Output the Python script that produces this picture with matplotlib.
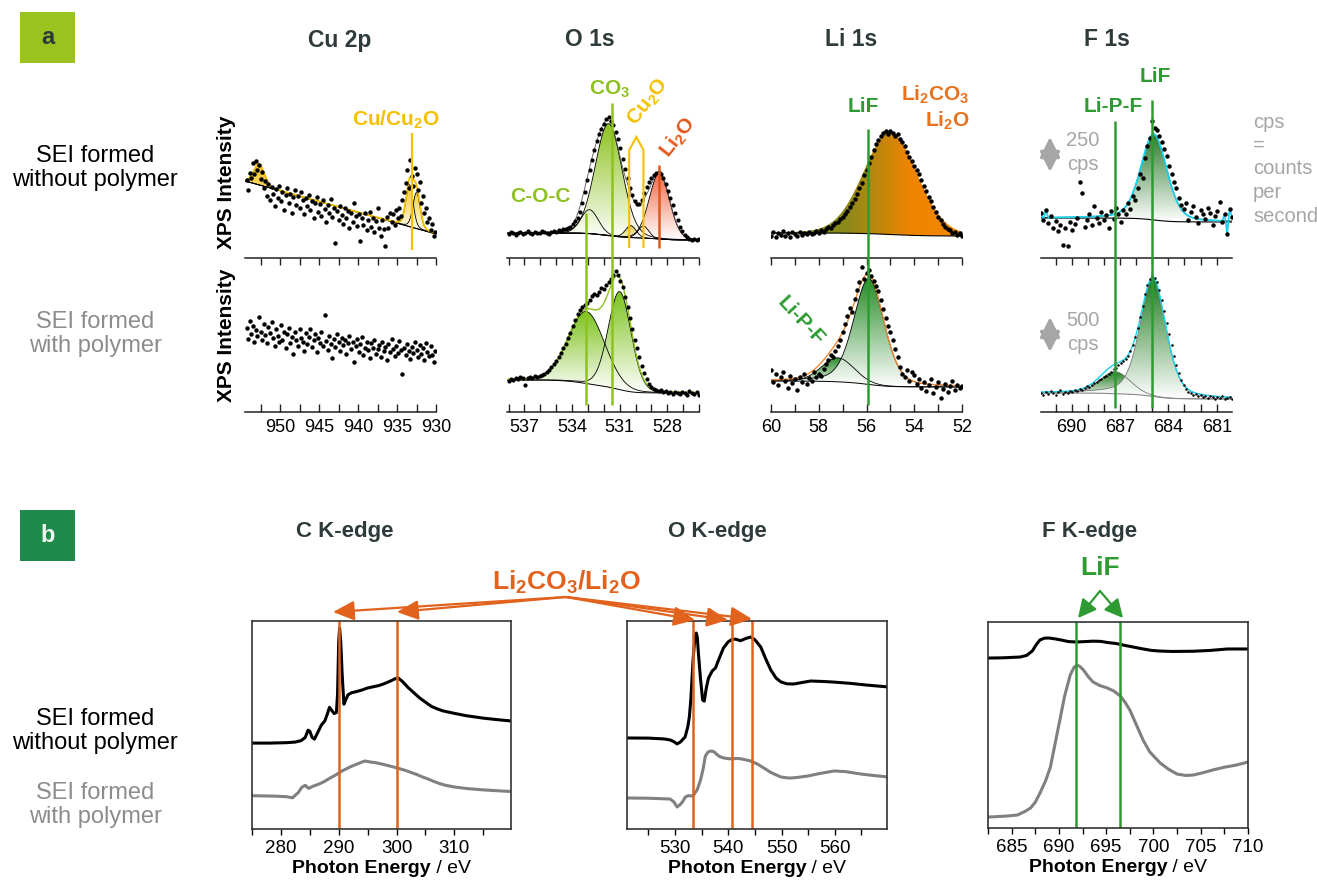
import numpy as np
import matplotlib
matplotlib.use('Agg')
import matplotlib.pyplot as plt
from matplotlib.colors import LinearSegmentedColormap
from matplotlib.patches import Polygon, FancyArrowPatch, Rectangle
from matplotlib.lines import Line2D
from matplotlib.transforms import blended_transform_factory
from matplotlib.offsetbox import TextArea, HPacker, AnnotationBbox
from matplotlib.ticker import MultipleLocator

plt.rcParams['font.family'] = ['Liberation Sans', 'DejaVu Sans']
plt.rcParams['mathtext.fontset'] = 'custom'
plt.rcParams['mathtext.rm'] = 'Liberation Sans:bold'
plt.rcParams['mathtext.bf'] = 'Liberation Sans:bold'
plt.rcParams['mathtext.it'] = 'Liberation Sans:bold:italic'

# ---------------- XPS spectra (counts, binding energy high -> low) ----------------
cu_top_counts = [78, 68, 85, 80, 95, 84, 97, 88, 93, 79,
                 86, 70, 77, 62, 74, 58, 71, 64, 52, 69,
                 60, 72, 57, 66, 48, 63, 70, 55, 64, 45,
                 61, 68, 53, 62, 50, 66, 58, 44, 60, 52,
                 63, 48, 57, 40, 55, 61, 46, 54, 42, 58,
                 49, 36, 53, 45, 59, 41, 50, 15, 47, 38,
                 52, 43, 34, 50, 40, 47, 30, 45, 36, 55,
                 42, 32, 44, 17, 40, 33, 45, 28, 38, 46,
                 31, 40, 26, 37, 50, 30, 22, 38, 29, 12,
                 41, 30, 45, 36, 44, 33, 48, 40, 50, 42,
                 58, 66, 75, 88, 70, 98, 82, 72, 90, 84,
                 68, 76, 55, 62, 45, 50, 36, 40, 28, 34,
                 22, 26]
cu_bot_counts = [84, 73, 91, 78, 86, 70, 82, 76, 95, 80,
                 72, 88, 77, 69, 85, 79, 90, 74, 66, 83,
                 76, 70, 87, 72, 80, 64, 78, 84, 69, 75,
                 58, 80, 72, 66, 83, 74, 70, 61, 79, 68,
                 75, 83, 65, 72, 78, 60, 74, 69, 80, 66,
                 97, 71, 62, 76, 68, 54, 73, 65, 78, 70,
                 61, 74, 67, 72, 58, 69, 76, 63, 70, 50,
                 66, 73, 60, 68, 75, 57, 64, 70, 62, 54,
                 69, 64, 72, 58, 63, 67, 55, 70, 61, 65,
                 52, 68, 60, 73, 63, 56, 66, 59, 71, 62,
                 38, 64, 57, 68, 61, 53, 65, 59, 70, 62,
                 55, 67, 58, 64, 52, 69, 60, 56, 66, 57,
                 50, 61]
cu_range = (954.3, 930.1)

o_top_counts = [24, 26, 25, 23, 25, 26, 24, 25, 27, 25,
                24, 26, 25, 25, 27, 26, 25, 24, 26, 27,
                26, 28, 27, 29, 29, 30, 31, 34, 37, 40,
                46, 55, 66, 78, 88, 98, 108, 117, 124, 129,
                134, 139, 141, 137, 133, 126, 119, 110, 99, 89,
                80, 70, 63, 57, 54, 54, 58, 65, 71, 76,
                80, 83, 85, 86, 84, 80, 74, 67, 60, 53,
                45, 38, 31, 27, 23, 21, 19, 18, 19, 18,
                19]
o_bot_counts = [31, 33, 32, 34, 33, 35, 34, 27, 34, 35,
                34, 36, 35, 36, 37, 38, 40, 42, 45, 48,
                51, 55, 59, 64, 68, 74, 79, 86, 92, 98,
                102, 105, 107, 109, 112, 116, 118, 117, 120, 124,
                123, 127, 130, 133, 137, 141, 137, 131, 125, 115,
                105, 94, 83, 72, 64, 55, 46, 39, 33, 28,
                25, 23, 22, 21, 22, 20, 21, 19, 20, 18,
                20, 19, 18, 20, 19, 17, 21, 19, 18, 20,
                17]
o_range = (538.0, 526.0)

li_top_counts = [22, 26, 21, 25, 23, 27, 22, 25, 21, 26,
                 24, 22, 26, 23, 25, 24, 26, 24, 25, 27,
                 25, 28, 26, 29, 31, 30, 33, 35, 36, 39,
                 41, 44, 47, 51, 55, 59, 64, 70, 75, 83,
                 88, 95, 101, 108, 114, 118, 122, 125, 127, 124,
                 127, 125, 122, 124, 119, 116, 112, 106, 101, 97,
                 92, 88, 84, 78, 72, 67, 61, 57, 51, 46,
                 41, 38, 34, 31, 29, 28, 25, 26, 23, 25,
                 22]
li_bot_counts = [42, 30, 38, 27, 35, 40, 31, 24, 36, 29,
                 33, 22, 35, 30, 38, 28, 34, 31, 40, 35,
                 38, 36, 43, 48, 52, 57, 55, 61, 66, 72,
                 80, 88, 96, 104, 100, 113, 122, 130, 145, 133,
                 139, 142, 136, 131, 126, 121, 112, 103, 94, 86,
                 80, 72, 63, 55, 45, 38, 35, 42, 31, 40,
                 37, 28, 33, 24, 30, 21, 27, 33, 19, 25,
                 30, 14, 23, 28, 20, 26, 31, 22, 27, 24,
                 26]
li_range = (60.0, 52.0)

f_top_counts = [45, 38, 48, 35, 42, 30, 37, 27, 33, 13,
                30, 12, 36, 28, 34, 40, 76, 65, 31, 38,
                44, 33, 52, 40, 35, 46, 38, 43, 30, 47,
                39, 50, 44, 36, 48, 44, 55, 49, 62, 58,
                70, 84, 80, 100, 112, 120, 137, 130, 128, 122,
                116, 109, 102, 92, 84, 76, 70, 60, 53, 49,
                55, 38, 46, 52, 41, 35, 48, 44, 39, 50,
                45, 33, 42, 47, 56, 36, 44, 24, 49, 41]
f_bot_counts = [19, 17, 20, 18, 21, 19, 17, 20, 22, 18,
                20, 19, 21, 20, 22, 21, 23, 22, 24, 26,
                25, 27, 29, 30, 32, 33, 35, 36, 38, 40,
                43, 44, 47, 49, 51, 53, 56, 61, 67, 75,
                84, 95, 106, 118, 127, 133, 136, 134, 130, 122,
                112, 101, 89, 78, 67, 56, 47, 39, 32, 27,
                23, 20, 19, 17, 18, 16, 17, 15, 16, 14,
                16, 15, 13, 15, 14, 16, 13, 14, 15, 13]
f_range = (691.9, 680.05)

# fitted components: (centre eV, height, FWHM eV, lorentz fraction)
cu_peaks = [(952.7, 21, 1.6, 0.2), (933.4, 42, 1.1, 0.2), (932.5, 36, 1.1, 0.2)]
cu_bg = (77, 24)
o_top_peaks = [(532.9, 24, 1.3, 0.1), (531.7, 112, 2.0, 0.1),
               (530.3, 12, 0.8, 0.1), (529.5, 12, 0.8, 0.1), (528.5, 66, 1.5, 0.1)]
o_top_bg = (25, 18)
o_bot_peaks = [(533.1, 72, 2.7, 0.1), (531.0, 98, 1.7, 0.1)]
o_bot_bg = (32, 19)
li_top_peak = (55.0, 102, 2.65, 0.1)
li_top_bg = (25, 22)
li_bot_peaks = [(57.2, 24, 1.6, 0.1), (55.9, 106, 1.5, 0.3)]
li_bot_bg = (31, 25)
f_top_peak = (684.9, 86, 1.9, 0.3)
f_top_bg = (40, 36)
f_top_window = (691.45, 680.65)
f_bot_peaks = [(687.3, 22, 2.2, 0.1), (684.95, 118, 1.9, 0.4)]
f_bot_bg = (19, 13)

# ---------------- NEXAFS spectra (normalised, offset) ----------------
c_e = [275, 278, 281, 282.5, 283.5, 284.2, 284.7, 285.0, 285.4, 285.8,
       286.3, 287.0, 287.6, 288.0, 288.4, 288.8, 289.2, 289.6, 289.8, 290.0,
       290.15, 290.35, 290.6, 290.9, 291.2, 291.6, 292.2, 293, 294, 295,
       296, 297, 298, 299, 300.2, 301, 302, 303, 304, 305,
       306, 307, 308, 310, 312, 315, 318, 320]
c_black = [.413, .413, .415, .418, .425, .44, .475, .47, .44, .432,
           .46, .50, .52, .55, .585, .57, .555, .56, .65, .90,
           .965, .90, .74, .60, .62, .645, .655, .66, .668, .678,
           .684, .69, .70, .712, .728, .71, .68, .655, .63, .61,
           .59, .578, .568, .556, .545, .533, .524, .519]
c_grey_e = [275, 279, 281, 282, 283, 283.6, 284.2, 284.8, 285.5, 286.5,
            287.5, 288.5, 289.5, 290.5, 291.5, 292.5, 293.5, 294.5, 295.5, 296.5,
            297.5, 298.5, 299.5, 300.5, 301.5, 302.5, 303.5, 304.5, 305.5, 306.5,
            307.5, 308.5, 310, 312, 315, 318, 320]
c_grey = [.16, .158, .155, .15, .175, .2, .21, .195, .205, .215,
          .228, .245, .26, .278, .292, .305, .316, .327, .322, .318,
          .312, .305, .298, .29, .282, .272, .262, .25, .24, .228,
          .218, .21, .202, .195, .188, .183, .18]

o_e = [521, 525, 528, 529.1, 529.8, 530.4, 531.0, 531.9, 532.4, 532.7,
       533.0, 533.4, 533.7, 534.0, 534.2, 534.4, 534.8, 535.2, 535.5, 535.9,
       536.3, 537.0, 537.6, 538.3, 539.1, 540.0, 540.8, 541.5, 542.3, 543.2,
       544.2, 545.0, 546.1, 547.0, 548.0, 549.0, 549.9, 551.0, 552.3, 554.0,
       555.5, 558.0, 560.0, 563.0, 566.0, 570.0]
o_black = [.4375, .437, .433, .428, .42, .409, .418, .442, .49, .538,
           .63, .8125, .91, .942, .92, .846, .72, .62, .615, .68,
           .726, .76, .774, .82, .87, .90, .913, .912, .905, .915,
           .923, .91, .875, .82, .764, .725, .707, .698, .697, .705,
           .7115, .709, .706, .70, .692, .683]
o_grey_e = [521, 525, 529.1, 529.8, 530.4, 531.0, 531.4, 532.0, 532.5, 533.4,
            534.2, 534.8, 535.3, 535.7, 536.2, 536.7, 537.3, 537.8, 538.4, 539.1,
            540.0, 540.8, 541.5, 542.3, 543.2, 544.2, 545.5, 546.7, 548.0, 549.0,
            549.9, 551.0, 551.8, 553.0, 555.0, 557.0, 559.9, 562.0, 565.0, 567.0,
            570.0]
o_grey = [.149, .148, .144, .13, .106, .118, .13, .155, .16, .159,
          .19, .236, .29, .35, .37, .375, .372, .36, .348, .342,
          .338, .337, .339, .338, .333, .327, .312, .293, .272, .26,
          .25, .246, .245, .248, .255, .266, .279, .276, .264, .258,
          .25]

f_e = [682.5, 684.0, 685.9, 686.6, 687.2, 687.6, 688.0, 688.5, 689.0, 689.6,
       690.3, 691.0, 691.9, 692.8, 693.6, 694.4, 695.2, 696.0, 696.8, 697.8,
       698.8, 699.8, 700.7, 702.0, 704.2, 706.0, 707.8, 710.0]
f_black = [.825, .826, .83, .838, .86, .89, .913, .922, .922, .918,
           .912, .905, .903, .905, .907, .906, .90, .896, .888, .879,
           .87, .862, .859, .857, .858, .862, .869, .869]
f_grey_e = [682.5, 684.5, 685.6, 686.4, 687.0, 687.5, 688.0, 688.6, 689.1, 689.6,
            690.1, 690.6, 691.2, 691.6, 691.9, 692.2, 692.6, 693.1, 693.6, 694.3,
            695.1, 695.8, 696.5, 697.0, 697.5, 698.2, 698.9, 699.6, 700.7, 701.6,
            702.5, 703.4, 704.2, 705.2, 706.3, 707.5, 708.7, 710.0]
f_grey = [.053, .058, .063, .08, .097, .125, .17, .23, .296, .41,
          .524, .64, .743, .78, .791, .785, .767, .735, .709, .692,
          .68, .665, .641, .61, .573, .5, .427, .37, .316, .285,
          .262, .255, .257, .268, .282, .295, .305, .32]

c_marks = [290, 300]
o_marks = [533.4, 540.8, 544.4]
f_marks = [691.8, 696.5]

# ---------------- colours ----------------
GOLD = '#f5c000'
LIME = '#8dc21f'
LI2O = '#e2581c'
ORANGE = '#e8731e'
LIF = '#2e9b32'
B_ORANGE = '#e0621c'
GREY_TXT = '#a6a6a6'
TITLE = '#2f3b3b'

W, H = 1317, 883
fig = plt.figure(figsize=(W / 100, H / 100), dpi=100)


def fy(y):
    return 1 - y / H


def px_axes(l, t, r, b):
    return fig.add_axes([l / W, 1 - b / H, (r - l) / W, (b - t) / H])


def ftext(x, y, s, **kw):
    return fig.text(x / W, fy(y), s, **kw)


def peak(be, centre, height, fwhm, eta):
    d = (be - centre) / fwhm
    return height * ((1 - eta) * np.exp(-4 * np.log(2) * d ** 2) + eta / (1 + 4 * d ** 2))


def shirley(total, hi, lo):
    cs = np.cumsum(total[::-1])[::-1]
    return lo + (hi - lo) * cs / cs[0]


def gradient_fill(ax, x, lo, hi, colors, horizontal=False, z=2):
    verts = np.concatenate([np.column_stack([x, hi]), np.column_stack([x[::-1], lo[::-1]])])
    clip = Polygon(verts, closed=True, fc='none', ec='none')
    ax.add_patch(clip)
    cmap = LinearSegmentedColormap.from_list('fill', colors)
    ramp = np.linspace(0, 1, 256)
    img = ramp[None, :] if horizontal else ramp[:, None]
    im = ax.imshow(img, cmap=cmap, extent=[x.min(), x.max(), lo.min(), hi.max()],
                   origin='lower', aspect='auto', interpolation='bilinear', zorder=z)
    im.set_clip_path(clip)


def fig_line(ax, xs, ys, color, lw=1.6):
    tr = blended_transform_factory(ax.transData, fig.transFigure)
    fig.add_artist(Line2D(xs, [fy(y) for y in ys], transform=tr, color=color, lw=lw,
                          solid_capstyle='butt', solid_joinstyle='miter'))


def dots(ax, be, counts, ms=3.2):
    ax.plot(be, counts, 'o', ms=ms, color='k', mec='none', zorder=6)


def components(ax, be, bg, peaks, fill, outline='k'):
    for p in peaks:
        y = peak(be, *p)
        gradient_fill(ax, be, bg, bg + y, ['white', fill])
        ax.plot(be, bg + y, color=outline, lw=0.6, zorder=4)


# ---------------- panel a: XPS ----------------
cols = [('Cu 2p', 340, 245, 436, (954.5, 930.0), 5, 2.5),
        ('O 1s', 590, 507, 699, (538.1, 526.0), 3, 1),
        ('Li 1s', 851, 771, 962, (60.0, 52.0), 2, 1),
        ('F 1s', 1107, 1041, 1232, (691.9, 680.05), 3, 1)]
axes_top, axes_bot = [], []
for title, tx, l, r, xlim, major, minor in cols:
    at = px_axes(l, 95, r, 258)
    ab = px_axes(l, 258, r, 412)
    for ax in (at, ab):
        ax.patch.set_alpha(0)
        ax.set_yticks([])
        for s in ('top', 'left', 'right'):
            ax.spines[s].set_visible(False)
        ax.spines['bottom'].set_linewidth(1.1)
        ax.spines['bottom'].set_color('#222222')
        ax.xaxis.set_major_locator(MultipleLocator(major))
        ax.xaxis.set_minor_locator(MultipleLocator(minor))
    at.tick_params(axis='x', which='both', direction='out', length=5, width=1,
                   color='#222222', labelbottom=False)
    ab.tick_params(axis='x', which='both', direction='in', length=6, width=1,
                   color='#222222', labelsize=13, pad=5)
    axes_top.append(at)
    axes_bot.append(ab)
    ftext(tx, 40, title, ha='center', va='center', fontsize=16.5, weight='bold', color=TITLE)

# Cu 2p
ax = axes_top[0]
be = np.linspace(*cu_range, len(cu_top_counts))
bem = np.linspace(954.5, 930.0, 400)
bg = cu_bg[1] + (cu_bg[0] - cu_bg[1]) * (bem - bem.min()) / (bem.max() - bem.min())
components(ax, bem, bg, cu_peaks, '#f5c21a')
ax.plot(bem, bg, color='k', lw=0.7, zorder=4)
ax.plot(bem, bg + sum(peak(bem, *p) for p in cu_peaks), color=GOLD, lw=1.3, zorder=5)
dots(ax, be, cu_top_counts)
dots(axes_bot[0], np.linspace(*cu_range, len(cu_bot_counts)), cu_bot_counts)

# O 1s
ax = axes_top[1]
bem = np.linspace(538.1, 526.0, 400)
tot = sum(peak(bem, *p) for p in o_top_peaks)
bg = shirley(tot, *o_top_bg)
fills = [LIME, LIME, '#d6c63a', '#d6c63a', '#f26a48']
for p, c in zip(o_top_peaks, fills):
    components(ax, bem, bg, [p], c)
ax.plot(bem, bg, color='k', lw=0.7, zorder=4)
ax.plot(bem, bg + tot, color='#555555', lw=0.6, zorder=4)
dots(ax, np.linspace(*o_range, len(o_top_counts)), o_top_counts, ms=3.0)

ax = axes_bot[1]
tot = sum(peak(bem, *p) for p in o_bot_peaks)
bg = shirley(tot, *o_bot_bg)
components(ax, bem, bg, o_bot_peaks, '#7cc21c')
ax.plot(bem, bg, color='k', lw=0.7, zorder=4)
ax.plot(bem, bg + tot, color=LIME, lw=1.0, zorder=4)
dots(ax, np.linspace(*o_range, len(o_bot_counts)), o_bot_counts, ms=3.0)

# Li 1s
ax = axes_top[2]
bem = np.linspace(60.0, 52.0, 400)
tot = peak(bem, *li_top_peak)
bg = shirley(tot, *li_top_bg)
gradient_fill(ax, bem, bg, bg + tot,
              [(0, '#f28800'), (0.27, '#ef8400'), (0.62, '#878a1a'), (1, '#878a1a')],
              horizontal=True)
ax.plot(bem, bg, color='k', lw=0.8, zorder=4)
dots(ax, np.linspace(*li_range, len(li_top_counts)), li_top_counts)

ax = axes_bot[2]
tot = sum(peak(bem, *p) for p in li_bot_peaks)
bg = shirley(tot, *li_bot_bg)
components(ax, bem, bg, li_bot_peaks, '#268a26')
ax.plot(bem, bg, color='k', lw=0.7, zorder=4)
ax.plot(bem, bg + tot, color='#f08a3c', lw=1.0, zorder=5)
dots(ax, np.linspace(*li_range, len(li_bot_counts)), li_bot_counts)

# F 1s
ax = axes_top[3]
be = np.linspace(*f_range, len(f_top_counts))
bem = np.linspace(691.9, 680.05, 400)
tot = peak(bem, *f_top_peak)
bg = shirley(tot, *f_top_bg)
components(ax, bem, bg, [f_top_peak], '#2a7a2a')
ax.plot(bem, bg, color='k', lw=0.8, zorder=4)
fit_d = peak(be, *f_top_peak) + shirley(peak(be, *f_top_peak), *f_top_bg)
inside = (be <= f_top_window[0]) & (be >= f_top_window[1])
env = np.where(inside, fit_d, np.array(f_top_counts, float))
ax.plot(be, env, color='#19d3ee', lw=1.3, zorder=5)
dots(ax, be, f_top_counts)

ax = axes_bot[3]
tot = sum(peak(bem, *p) for p in f_bot_peaks)
bg = shirley(tot, *f_bot_bg)
components(ax, bem, bg, f_bot_peaks, '#1f7a1f', outline='#777777')
ax.plot(bem, bg, color='#888888', lw=0.8, zorder=4)
ax.plot(bem, bg + tot, color='#19d3ee', lw=1.0, zorder=5)
dots(ax, np.linspace(*f_range, len(f_bot_counts)), f_bot_counts, ms=1.8)

for (title, tx, l, r, xlim, major, minor), at, ab in zip(cols, axes_top, axes_bot):
    at.set_xlim(*xlim)
    ab.set_xlim(*xlim)
    at.set_ylim(0, 163)
    ab.set_ylim(0, 154)

# marker lines and labels, panel a
fig_line(axes_top[0], [933.1, 933.1], [133, 250], GOLD)
ftext(396, 120, r'Cu/Cu$_2$O', ha='center', va='center', fontsize=15, weight='bold', color=GOLD)

ao = axes_top[1]
fig_line(ao, [531.5, 531.5], [103, 405], LIME, lw=1.8)
fig_line(ao, [533.1, 533.1], [213, 405], LIME, lw=1.8)
fig_line(ao, [530.4, 530.4, 529.95, 529.5, 529.5], [248, 150, 137, 150, 248], GOLD, lw=1.5)
fig_line(ao, [528.5, 528.5], [165, 248], LI2O, lw=1.8)
ftext(610, 89, r'CO$_3$', ha='center', va='center', fontsize=15, weight='bold', color=LIME)
ftext(540, 196, 'C-O-C', ha='center', va='center', fontsize=15, weight='bold', color=LIME)
ftext(648, 102, r'Cu$_2$O', ha='center', va='center', fontsize=15, weight='bold',
      color=GOLD, rotation=52, rotation_mode='anchor')
ftext(678, 137, r'Li$_2$O', ha='center', va='center', fontsize=15, weight='bold',
      color=LI2O, rotation=52, rotation_mode='anchor')

fig_line(axes_top[2], [55.95, 55.95], [129, 405], LIF, lw=1.8)
ftext(863, 106, 'LiF', ha='center', va='center', fontsize=15, weight='bold', color=LIF)
ftext(970, 95, r'Li$_2$CO$_3$', ha='right', va='center', fontsize=15, weight='bold', color=ORANGE)
ftext(970, 121, r'Li$_2$O', ha='right', va='center', fontsize=15, weight='bold', color=ORANGE)
ftext(801, 321, 'Li-P-F', ha='center', va='center', fontsize=15, weight='bold', color=LIF,
      rotation=-47, rotation_mode='anchor')

af = axes_top[3]
fig_line(af, [685.0, 685.0], [100, 408], LIF, lw=1.8)
fig_line(af, [687.3, 687.3], [121, 408], LIF, lw=1.8)
ftext(1155, 77, 'LiF', ha='center', va='center', fontsize=15, weight='bold', color=LIF)
ftext(1113, 106, 'Li-P-F', ha='center', va='center', fontsize=15, weight='bold', color=LIF)

for y0, y1, val in ((137, 172, '250'), (317, 352, '500')):
    fig.add_artist(FancyArrowPatch((1050 / W, fy(y0)), (1050 / W, fy(y1)),
                                   transform=fig.transFigure,
                                   arrowstyle='<|-|>,head_length=0.6,head_width=0.3',
                                   mutation_scale=20, lw=2.5, color=GREY_TXT,
                                   shrinkA=0, shrinkB=0))
    ftext(1083, y0 + 4, val, ha='center', va='center', fontsize=14.5, color=GREY_TXT)
    ftext(1083, y0 + 28, 'cps', ha='center', va='center', fontsize=14.5, color=GREY_TXT)
for y, s in ((122, 'cps'), (145, '='), (169, 'counts'), (193, 'per'), (217, 'second')):
    ftext(1253, y, s, ha='left', va='center', fontsize=14.5, color=GREY_TXT)

for y in (182, 335):
    ftext(226, y, 'XPS Intensity', ha='center', va='center', rotation=90,
          fontsize=15, weight='bold', color='k')

ftext(95, 168, 'SEI formed\nwithout polymer', ha='center', va='center',
      fontsize=17, color='k', linespacing=1.15)
ftext(95, 334, 'SEI formed\nwith polymer', ha='center', va='center',
      fontsize=17, color='#8c8c8c', linespacing=1.15)

# panel labels
fig.add_artist(Rectangle((20 / W, fy(63)), 55 / W, 51 / H, transform=fig.transFigure,
                         fc='#9bc31f', ec='none'))
ftext(47.5, 38, 'a', ha='center', va='center', fontsize=17, weight='bold', color='#2d3a3a')
fig.add_artist(Rectangle((20 / W, fy(561)), 55 / W, 51 / H, transform=fig.transFigure,
                         fc='#1f8a4c', ec='none'))
ftext(47.5, 536, 'b', ha='center', va='center', fontsize=17, weight='bold', color='#eef4ee')

# ---------------- panel b: NEXAFS ----------------
xas = [('C K-edge', 345, (252, 621, 511, 829), (275, 319.8), 10, 5,
        (c_e, c_black), (c_grey_e, c_grey), c_marks, B_ORANGE),
       ('O K-edge', 717, (627, 621, 887, 829), (521, 569.8), 10, 5,
        (o_e, o_black), (o_grey_e, o_grey), o_marks, B_ORANGE),
       ('F K-edge', 1090, (988, 622, 1248, 828), (682.5, 710), 5, 2.5,
        (f_e, f_black), (f_grey_e, f_grey), f_marks, LIF)]
for title, tx, box, xlim, major, minor, blk, gry, marks, mc in xas:
    ax = px_axes(*box)
    ax.plot(*gry, color='#808080', lw=2.2)
    ax.plot(*blk, color='k', lw=2.2)
    for m in marks:
        ax.axvline(m, color=mc, lw=1.8)
    ax.set_xlim(*xlim)
    ax.set_ylim(0, 1)
    ax.set_yticks([])
    ax.xaxis.set_major_locator(MultipleLocator(major))
    ax.xaxis.set_minor_locator(MultipleLocator(minor))
    ax.tick_params(axis='x', which='both', direction='out', length=4, width=1,
                   labelsize=13.5, pad=4)
    for s in ax.spines.values():
        s.set_linewidth(1.2)
        s.set_color('#333333')
    lab = HPacker(children=[TextArea('Photon Energy', textprops=dict(weight='bold', size=14)),
                            TextArea(' / eV', textprops=dict(size=14))],
                  align='baseline', pad=0, sep=0)
    ax.add_artist(AnnotationBbox(lab, (0.5, -0.19), xycoords='axes fraction',
                                 frameon=False, box_alignment=(0.5, 0.5)))
    ftext(tx, 532, title, ha='center', va='center', fontsize=16, weight='bold', color=TITLE)

ftext(566, 582, r'Li$_2$CO$_3$/Li$_2$O', ha='center', va='center', fontsize=19,
      weight='bold', color=B_ORANGE)
for tip in ((333, 612), (397, 612), (695, 620), (728, 620), (752, 619)):
    fig.add_artist(FancyArrowPatch((566 / W, fy(597)), (tip[0] / W, fy(tip[1])),
                                   transform=fig.transFigure,
                                   arrowstyle='-|>,head_length=0.65,head_width=0.3',
                                   mutation_scale=20, lw=1.6, color=B_ORANGE,
                                   shrinkA=0, shrinkB=0))
ftext(1100, 568, 'LiF', ha='center', va='center', fontsize=19, weight='bold', color=LIF)
for tip in ((1078, 618), (1123, 618)):
    fig.add_artist(FancyArrowPatch((1100 / W, fy(591)), (tip[0] / W, fy(tip[1])),
                                   transform=fig.transFigure,
                                   arrowstyle='-|>,head_length=0.55,head_width=0.28',
                                   mutation_scale=20, lw=1.6, color=LIF,
                                   shrinkA=0, shrinkB=0))

ftext(95, 731, 'SEI formed\nwithout polymer', ha='center', va='center',
      fontsize=17, color='k', linespacing=1.15)
ftext(95, 805, 'SEI formed\nwith polymer', ha='center', va='center',
      fontsize=17, color='#8c8c8c', linespacing=1.15)

fig.savefig('out.png', dpi=100)
